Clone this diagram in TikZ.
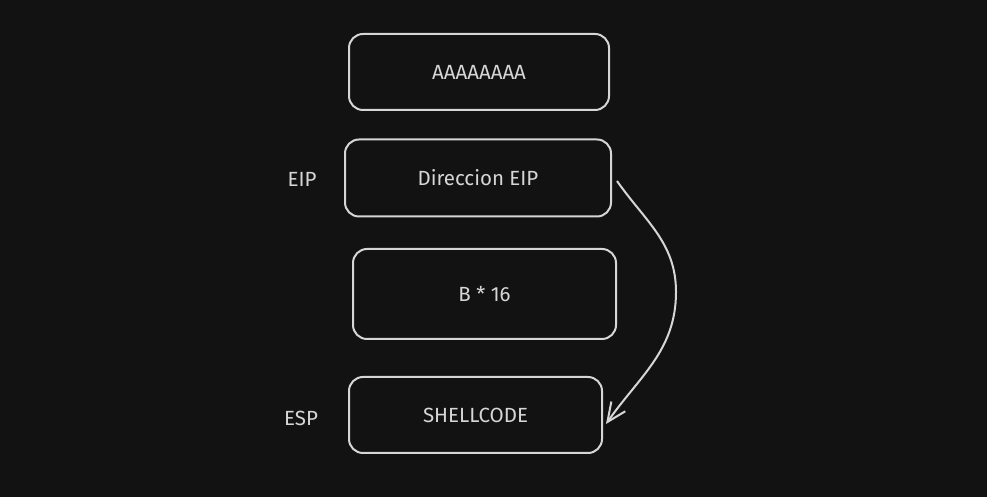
\documentclass[tikz,border=0pt]{standalone}
\usepackage{fontspec}
\setmainfont{Fira Sans}
\usetikzlibrary{arrows.meta,calc}

\definecolor{bg}{HTML}{121212}
\definecolor{ink}{HTML}{D6D6D6}

\tikzset{
	stackbox/.style={draw=ink, line width=2pt, rounded corners=14pt, text=ink, font=\fontsize{20.5}{24}\selectfont},
	sidelabel/.style={text=ink, font=\fontsize{20.5}{24}\selectfont},
	flow/.style={draw=ink, line width=2pt, -{Straight Barb[length=19pt,width=17pt,line width=2pt]}}
}

\begin{document}
\begin{tikzpicture}[x=1pt,y=1pt]

	% Background and margins
	\fill[bg] (0,0) rectangle (987,497);
	\useasboundingbox (0,0) rectangle (987,497);

	% Draw the stack of buffer boxes
	\node[stackbox, minimum width=260pt, minimum height=76pt] (fillbox) at (479,425) {AAAAAAAA};
	\node[stackbox, minimum width=266pt, minimum height=77pt] (eipbox) at (478,319) {Direccion EIP};
	\node[stackbox, minimum width=263pt, minimum height=90pt] (padbox) at (484.5,203) {B * 16};
	\node[stackbox, minimum width=253pt, minimum height=76pt] (shellbox) at (475.5,82) {SHELLCODE};

	% Register labels on the left
	\node[sidelabel] (eiplabel) at (302,318) {EIP};
	\node[sidelabel] (esplabel) at (301,79) {ESP};

	% Draw the jump from EIP to the shellcode
	\coordinate (bend) at (676,205);
	\draw[flow] ($(eipbox.east)+(5,-3)$) to[out=-55,in=90] (bend)
		to[out=-90,in=55] ($(shellbox.east)+(3,-9)$);

\end{tikzpicture}
\end{document}
